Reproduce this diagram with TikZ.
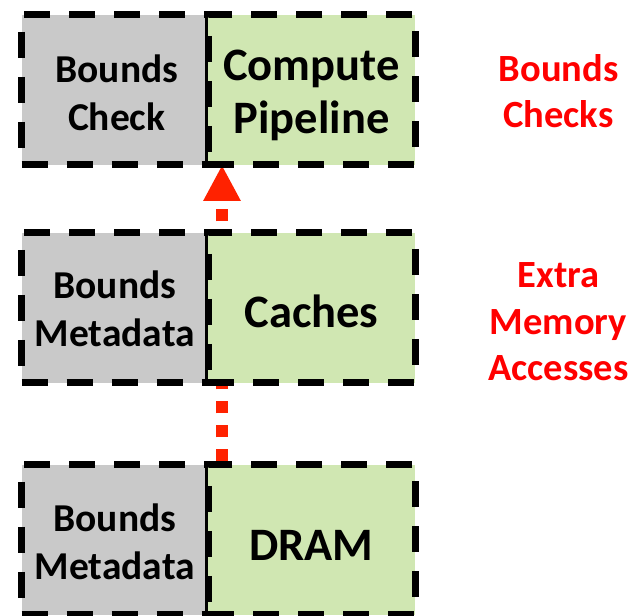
\documentclass[tikz,border=0pt]{standalone}
\usepackage{fontspec}
\setmainfont{Carlito}
\usetikzlibrary{arrows.meta,backgrounds}
\definecolor{metagray}{RGB}{201,201,201}
\definecolor{unitgreen}{RGB}{208,231,178}
\definecolor{alertred}{RGB}{255,0,0}
\definecolor{flowred}{RGB}{255,34,0}
\begin{document}
\begin{tikzpicture}[x=1pt,y=1pt,
  half/.style={rectangle, draw=black, line width=7pt, dash pattern=on 26pt off 19pt,
    line join=round, outer sep=0pt, inner sep=0pt, minimum height=150pt},
  meta/.style={half, fill=metagray, minimum width=186.5pt},
  unit/.style={half, fill=unitgreen, minimum width=207pt},
  metatext/.style={align=center, inner sep=0pt, font=\bfseries\fontsize{39.5}{47.5}\selectfont},
  unittext/.style={align=center, inner sep=0pt, font=\bfseries\fontsize{46.5}{53}\selectfont},
  note/.style={text=alertred, align=center, font=\bfseries\fontsize{38.5}{46.5}\selectfont},
  flow/.style={draw=flowred, line width=12pt, dash pattern=on 12pt off 12pt,
    -{Triangle[width=35pt,length=36pt,fill=flowred]}}]
\useasboundingbox (0,0) rectangle (635,616);

% three levels: compute, caches, memory
\node[meta, label={[metatext, xshift=2pt, yshift=-3pt]center:Bounds\\Check}] (chk) at (114.75,526) {};
\node[unit, label={[unittext, yshift=-5pt]center:Compute\\Pipeline}] (pipe) at (311.5,526) {};
\node[meta, label={[metatext, yshift=-1pt]center:Bounds\\Metadata}] (meta1) at (114.75,308) {};
\node[unit, label={[unittext, yshift=-3pt]center:Caches}] (cache) at (311.5,308) {};
\node[meta, label={[metatext, yshift=-2pt]center:Bounds\\Metadata}] (meta2) at (114.75,76) {};
\node[unit, label={[unittext, yshift=-5pt]center:DRAM}] (dram) at (311.5,76) {};

% overhead annotations
\node[note] (n1) at (558.5,525) {Bounds\\Checks};
\node[note] (n2) at (558.5,294) {Extra\\Memory\\Accesses};

% metadata flow from DRAM up to the pipeline, passing behind the caches
\begin{pgfonlayer}{background}
\draw[flow] ([shift={(14,3.5)}]dram.north west) -- ([shift={(14,0)}]pipe.south west);
\end{pgfonlayer}
\end{tikzpicture}
\end{document}
